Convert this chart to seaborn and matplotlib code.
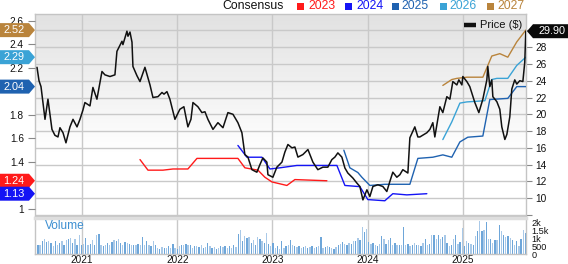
import numpy as np
import pandas as pd
import matplotlib
matplotlib.use("Agg")
import matplotlib.pyplot as plt
from matplotlib.patches import Polygon, Rectangle
from matplotlib.lines import Line2D
import seaborn as sns

sns.set_theme(style="white")
plt.rcParams['font.family'] = ['Liberation Sans', 'DejaVu Sans']

# ---------------- data (dates as decimal years) ----------------
price_t = [2020.528, 2020.549, 2020.570, 2020.612, 2020.643, 2020.685, 2020.716, 2020.748,
           2020.769, 2020.801, 2020.832, 2020.874, 2020.906, 2020.948, 2020.979, 2021.010,
           2021.031, 2021.084, 2021.115, 2021.157, 2021.210, 2021.241, 2021.294, 2021.346,
           2021.367, 2021.420, 2021.430, 2021.472, 2021.483, 2021.504, 2021.525, 2021.535,
           2021.577, 2021.609, 2021.661, 2021.714, 2021.745, 2021.798, 2021.840, 2021.861,
           2021.892, 2021.923, 2021.976, 2022.028, 2022.070, 2022.112, 2022.144, 2022.165,
           2022.217, 2022.259, 2022.291, 2022.322, 2022.375, 2022.427, 2022.480, 2022.532,
           2022.585, 2022.637, 2022.679, 2022.710, 2022.742, 2022.784, 2022.836, 2022.868,
           2022.899, 2022.941, 2022.952, 2023.004, 2023.046, 2023.099, 2023.130, 2023.162,
           2023.204, 2023.235, 2023.267, 2023.319, 2023.372, 2023.424, 2023.476, 2023.529,
           2023.581, 2023.623, 2023.655, 2023.686, 2023.728, 2023.760, 2023.791, 2023.844,
           2023.886, 2023.917, 2023.949, 2023.991, 2024.022, 2024.054, 2024.106, 2024.158,
           2024.200, 2024.232, 2024.263, 2024.305, 2024.337, 2024.368, 2024.421, 2024.442,
           2024.494, 2024.526, 2024.547, 2024.620, 2024.652, 2024.683, 2024.704, 2024.757,
           2024.788, 2024.830, 2024.862, 2024.893, 2024.935, 2024.956, 2024.988, 2024.998,
           2025.040, 2025.071, 2025.124, 2025.166, 2025.208, 2025.250, 2025.260, 2025.281,
           2025.302, 2025.313, 2025.355, 2025.386, 2025.407, 2025.439, 2025.460, 2025.491,
           2025.512, 2025.543, 2025.564, 2025.596, 2025.628, 2025.648, 2025.659]
price = [25.6, 24.0, 23.3, 19.4, 21.8, 18.2, 17.5, 17.3,
         18.4, 17.8, 16.6, 18.5, 19.4, 18.5, 19.4, 20.5,
         21.4, 21.0, 23.2, 21.8, 25.1, 24.7, 24.5, 24.7,
         27.5, 28.7, 28.3, 29.9, 29.3, 29.8, 28.6, 25.7,
         24.6, 23.9, 25.6, 23.5, 22.0, 22.1, 22.6, 22.4,
         22.7, 21.8, 19.4, 20.6, 20.9, 18.5, 19.4, 21.4,
         20.9, 20.2, 20.3, 19.4, 18.2, 19.0, 18.4, 20.2,
         20.0, 19.0, 17.8, 15.2, 14.9, 13.4, 13.1, 14.0,
         14.8, 14.3, 12.8, 12.5, 13.7, 14.3, 15.5, 16.4,
         16.0, 16.1, 14.9, 15.2, 15.8, 14.3, 13.4, 13.7,
         13.7, 14.6, 14.9, 15.4, 14.9, 13.6, 13.0, 12.4,
         11.8, 11.4, 9.8, 11.0, 10.2, 11.4, 11.6, 11.4,
         10.8, 12.0, 13.1, 12.5, 12.8, 13.4, 13.0, 17.2,
         18.5, 17.3, 17.3, 17.8, 18.2, 19.0, 17.3, 20.9,
         20.2, 22.1, 21.8, 23.9, 23.5, 24.1, 23.5, 24.5,
         23.9, 23.3, 21.4, 20.2, 21.8, 24.1, 25.7, 23.3,
         24.1, 22.1, 21.5, 20.6, 18.5, 17.0, 17.6, 19.7,
         23.0, 24.1, 23.6, 24.0, 23.9, 26.2, 29.9]

eps_2023_t = [2021.609, 2021.693, 2021.850, 2021.955, 2022.112, 2022.207, 2022.637,
              2022.710, 2022.847, 2022.920, 2022.994, 2023.151, 2023.235, 2023.571]
eps_2023 = [1.42, 1.33, 1.33, 1.34, 1.34, 1.43, 1.43, 1.35, 1.33, 1.27, 1.23, 1.20, 1.25, 1.24]

eps_2024_t = [2022.637, 2022.731, 2022.889, 2022.973, 2023.078, 2023.256, 2023.676,
              2023.760, 2023.917, 2024.001, 2024.179, 2024.263, 2024.410, 2024.620]
eps_2024 = [1.54, 1.44, 1.44, 1.34, 1.35, 1.37, 1.37, 1.20, 1.19, 1.08, 1.07, 1.13, 1.12, 1.13]

eps_2025_t = [2023.749, 2023.812, 2023.896, 2023.938, 2024.022, 2024.179, 2024.442, 2024.526,
              2024.683, 2024.788, 2024.882, 2024.967, 2025.050, 2025.208, 2025.281, 2025.470,
              2025.564, 2025.659]
eps_2025 = [1.50, 1.35, 1.31, 1.27, 1.20, 1.21, 1.21, 1.43,
            1.44, 1.46, 1.44, 1.57, 1.61, 1.62, 1.93, 1.94, 2.04, 2.04]

eps_2026_t = [2024.788, 2024.882, 2024.967, 2025.040, 2025.229, 2025.302, 2025.355,
              2025.470, 2025.564, 2025.659]
eps_2026 = [1.59, 1.74, 1.90, 1.91, 1.92, 2.10, 2.11, 2.11, 2.22, 2.29]

eps_2027_t = [2024.788, 2024.882, 2024.935, 2025.040, 2025.208, 2025.250, 2025.302,
              2025.386, 2025.470, 2025.564, 2025.659]
eps_2027 = [2.05, 2.10, 2.11, 2.12, 2.12, 2.20, 2.30, 2.32, 2.29, 2.42, 2.52]

volume_k = [0.38, 0.54, 0.58, 0.79, 0.96, 0.75, 0.79, 0.69, 0.48, 0.83, 0.58, 0.69, 0.79, 0.54,
            0.90, 0.96, 1.00, 0.69, 0.96, 0.54, 1.21, 0.54, 0.63, 1.00, 0.58, 0.63, 0.90, 0.54,
            1.17, 1.27, 0.54, 0.48, 0.58, 0.69, 0.58, 0.75, 0.90, 0.79, 0.96, 0.69, 0.58, 0.75,
            0.69, 0.63, 0.54, 0.58, 0.54, 0.63, 0.58, 1.04, 0.54, 0.79, 0.58, 0.48, 0.79, 0.58,
            0.38, 0.33, 0.42, 0.38, 0.38, 0.48, 0.38, 0.63, 0.38, 0.33, 0.48, 0.54, 0.54, 0.63,
            0.54, 0.58, 0.38, 0.48, 0.48, 0.42, 0.54, 0.38, 0.42, 0.69, 0.48, 0.38, 0.42, 0.33,
            0.38, 0.48, 0.42, 0.48, 0.38, 0.48, 0.38, 0.54, 0.42, 1.25, 1.52, 0.79, 1.10, 1.00,
            1.04, 0.69, 0.90, 0.54, 1.04, 0.96, 0.79, 0.69, 1.31, 0.63, 0.48, 0.69, 0.38, 0.48,
            0.33, 0.83, 0.38, 0.48, 0.54, 0.90, 0.54, 0.48, 0.42, 0.48, 0.38, 0.42, 0.48, 0.38,
            0.42, 0.48, 0.38, 0.42, 0.48, 1.04, 0.38, 0.42, 0.48, 0.42, 0.38, 0.33, 0.42, 0.58,
            0.63, 0.75, 0.63, 0.58, 0.69, 0.63, 0.79, 0.83, 1.00, 0.90, 1.67, 1.38, 1.58, 0.75,
            0.63, 0.69, 0.54, 0.48, 0.63, 1.10, 0.96, 0.63, 0.90, 1.00, 0.58, 0.69, 0.54, 0.58,
            0.58, 1.67, 0.58, 0.63, 0.48, 0.54, 0.69, 0.58, 0.54, 0.48, 0.69, 0.96, 0.58, 0.63,
            1.21, 1.21, 0.96, 1.21, 0.96, 1.04, 1.21, 0.69, 0.48, 0.58, 0.96, 1.17, 0.63, 0.75,
            1.63, 0.48, 0.79, 0.69, 0.63, 0.58, 1.10, 1.42, 2.08, 1.46, 1.52, 2.00, 0.96, 0.96,
            0.69, 0.90, 0.90, 1.79, 1.42, 1.17, 1.04, 1.10, 1.00, 0.90, 0.58, 0.79, 0.48, 0.96,
            1.52, 1.31]
volume_span = [2020.515, 2025.655]

years = [2021, 2022, 2023, 2024, 2025]
consensus_labels = ["2023", "2024", "2025", "2026", "2027"]
price_ticks = [8, 10, 12, 14, 16, 18, 20, 22, 24, 26, 28, 30]
eps_ticks = [1, 1.4, 1.6, 1.8, 2.2, 2.4, 2.6]
vol_ticks = [0, 0.5, 1, 1.5, 2]
vol_tick_labels = ["0", "500", "1k", "1.5k", "2k"]

colors = {"2023": "#ff1a1a", "2024": "#1414f5", "2025": "#1f62b0",
          "2026": "#3aa3d6", "2027": "#b9843c"}


def to_date(ts):
    ts = np.asarray(ts, dtype=float)
    return pd.Timestamp("2020-01-01") + pd.to_timedelta((ts - 2020.0) * 365.25, unit="D")


# ---------------- figure layout ----------------
W, H = 568, 264
fig = plt.figure(figsize=(W / 100, H / 100), dpi=100)
fig.patch.set_facecolor("white")


def rect(x0, y0, x1, y1):
    return [x0 / W, 1 - y1 / H, (x1 - x0) / W, (y1 - y0) / H]


ax = fig.add_axes(rect(35, 14, 526, 216))
axv = fig.add_axes(rect(35, 218, 526, 254), sharex=ax)
ax_eps = ax.twinx()
ax_top = ax.twinx()

xlim = to_date([2020.507, 2025.661])
ax.set_xlim(xlim[0], xlim[1])
ax.set_ylim(7.88, 31.95)

# background gradient
t = np.linspace(0, 1, 256)
g = 0.885 + 0.115 * np.clip(t / 0.68, 0, 1)
grad = np.stack([g, g, g], axis=-1).reshape(256, 1, 3)
ax.imshow(grad, extent=[0, 1, 0, 1], transform=ax.transAxes, aspect="auto",
          origin="upper", zorder=-2, interpolation="bilinear")

year_dates = to_date(years)
grid_c = "#c9c9c9"
for a in (ax, axv):
    a.set_xticks(year_dates)
    a.grid(True, axis="x", color=grid_c, linewidth=1.0)
    a.set_axisbelow(True)
    for s in a.spines.values():
        s.set_color("#c4c4c4")
        s.set_linewidth(1.0)
ax.set_yticks(price_ticks)
ax.grid(True, axis="y", color=grid_c, linewidth=1.0)
ax.set_yticklabels(["" if v in (8, 30) else str(v) for v in price_ticks])
ax.tick_params(axis="x", bottom=False, labelbottom=False)

# EPS axis (left)
ax_eps.set_ylim(0.9405, 2.657)
ax_eps.set_yticks(eps_ticks)
ax_eps.set_yticklabels(["1" if v == 1 else f"{v:g}" for v in eps_ticks])
for s in ax_eps.spines.values():
    s.set_visible(False)

series = [(eps_2023_t, eps_2023, "2023"), (eps_2024_t, eps_2024, "2024"),
          (eps_2025_t, eps_2025, "2025"), (eps_2026_t, eps_2026, "2026"),
          (eps_2027_t, eps_2027, "2027")]
for ts, vals, name in series:
    sns.lineplot(x=to_date(ts), y=vals, ax=ax_eps, color=colors[name], linewidth=1.0)
ax_eps.set_xlabel("")
ax_eps.set_ylabel("")

# price line on top
ax_top.set_ylim(ax.get_ylim())
for s in ax_top.spines.values():
    s.set_visible(False)
sns.lineplot(x=to_date(price_t), y=price, ax=ax_top, color="#111111", linewidth=1.1)
ax_top.set_xlabel("")
ax_top.set_ylabel("")
ax_top.set_yticks([])
ax_top.tick_params(axis="y", left=False, right=False, labelleft=False, labelright=False)
ax_top.set_xlim(xlim[0], xlim[1])

# axis sides (set after twins were made)
ax.yaxis.set_ticks_position("right")
ax.tick_params(axis="y", which="both", right=True, left=False, labelright=True,
               labelleft=False, length=4, width=0.8, color="#888888", pad=2.5,
               labelsize=7.3, labelcolor="#111111")
ax_eps.yaxis.set_ticks_position("left")
ax_eps.tick_params(axis="y", left=True, right=False, labelleft=True, labelright=False,
                   length=5, width=0.8, color="#888888", pad=3, labelsize=7.3,
                   labelcolor="#111111")

# volume panel
vol_dates = to_date(np.linspace(volume_span[0], volume_span[1], len(volume_k)))
bar_cols = ["#a9c9e8" if i % 2 == 0 else "#6ea6d9" for i in range(len(volume_k))]
axv.bar(vol_dates, volume_k, width=5.0, color=bar_cols, linewidth=0, zorder=2)
axv.set_ylim(0, 2.25)
axv.set_yticks(vol_ticks)
axv.set_yticklabels(vol_tick_labels)
axv.yaxis.set_ticks_position("right")
axv.tick_params(axis="y", right=True, left=False, labelright=True, labelleft=False,
                length=0, pad=4, labelsize=6.6, labelcolor="#111111")
axv.tick_params(axis="x", bottom=False, labelbottom=True, length=0, pad=0.5,
                labelsize=7.2, labelcolor="#111111")
axv.set_xticklabels([str(y) for y in years])
axv.spines["top"].set_color("#dedede")
axv.spines["top"].set_linewidth(2.5)
axv.set_facecolor("white")
axv.text(10 / 491, 0.78, "Volume", transform=axv.transAxes, color="#3d8fd1",
         fontsize=8.6, ha="left", va="center")
ax.set_xlim(xlim[0], xlim[1])

# ---------------- legend at top ----------------
fy = lambda py: 1 - py / H
fig.text(284 / W, fy(6), "Consensus", ha="right", va="center", fontsize=8.8, color="#111111")
sq_x = [297, 345, 392, 440, 487]
tx_x = [308, 356, 401, 449, 497]
for name, sx, tx in zip(consensus_labels, sq_x, tx_x):
    fig.add_artist(Rectangle((sx / W, fy(9.5)), 7 / W, 7 / H, transform=fig.transFigure,
                             facecolor=colors[name], edgecolor="none"))
    fig.text(tx / W, fy(6), name, ha="left", va="center", fontsize=8.8, color=colors[name])

# Price ($) legend inside plot
fig.add_artist(Line2D([464 / W, 476 / W], [fy(25), fy(25)], transform=fig.transFigure,
                      color="#111111", linewidth=3.2, solid_capstyle="butt"))
fig.text(480 / W, fy(25), "Price ($)", ha="left", va="center", fontsize=8.0, color="#111111")

# ---------------- value badges ----------------
fig.canvas.draw()
inv = fig.transFigure.inverted()


def fig_y(axis, val):
    return inv.transform(axis.transData.transform((0, val)))[1]


hh = 7 / H
for ts, vals, name in series:
    yc = fig_y(ax_eps, vals[-1])
    pts = [(0, yc - hh), (29 / W, yc - hh), (35 / W, yc), (29 / W, yc + hh), (0, yc + hh)]
    fig.add_artist(Polygon(pts, closed=True, transform=fig.transFigure,
                           facecolor=colors[name], edgecolor="none", zorder=5))
    fig.text(14 / W, yc, f"{vals[-1]:.2f}", ha="center", va="center", fontsize=7.8,
             color="white", zorder=6)

yc = fig_y(ax_top, price[-1])
pts = [(527 / W, yc), (533 / W, yc + hh), (1.0, yc + hh), (1.0, yc - hh), (533 / W, yc - hh)]
fig.add_artist(Polygon(pts, closed=True, transform=fig.transFigure,
                       facecolor="#0a0a0a", edgecolor="none", zorder=5))
fig.text(552 / W, yc, f"{price[-1]:.2f}", ha="center", va="center", fontsize=7.8,
         color="white", zorder=6)

fig.savefig("out.png", dpi=100, facecolor="white")
